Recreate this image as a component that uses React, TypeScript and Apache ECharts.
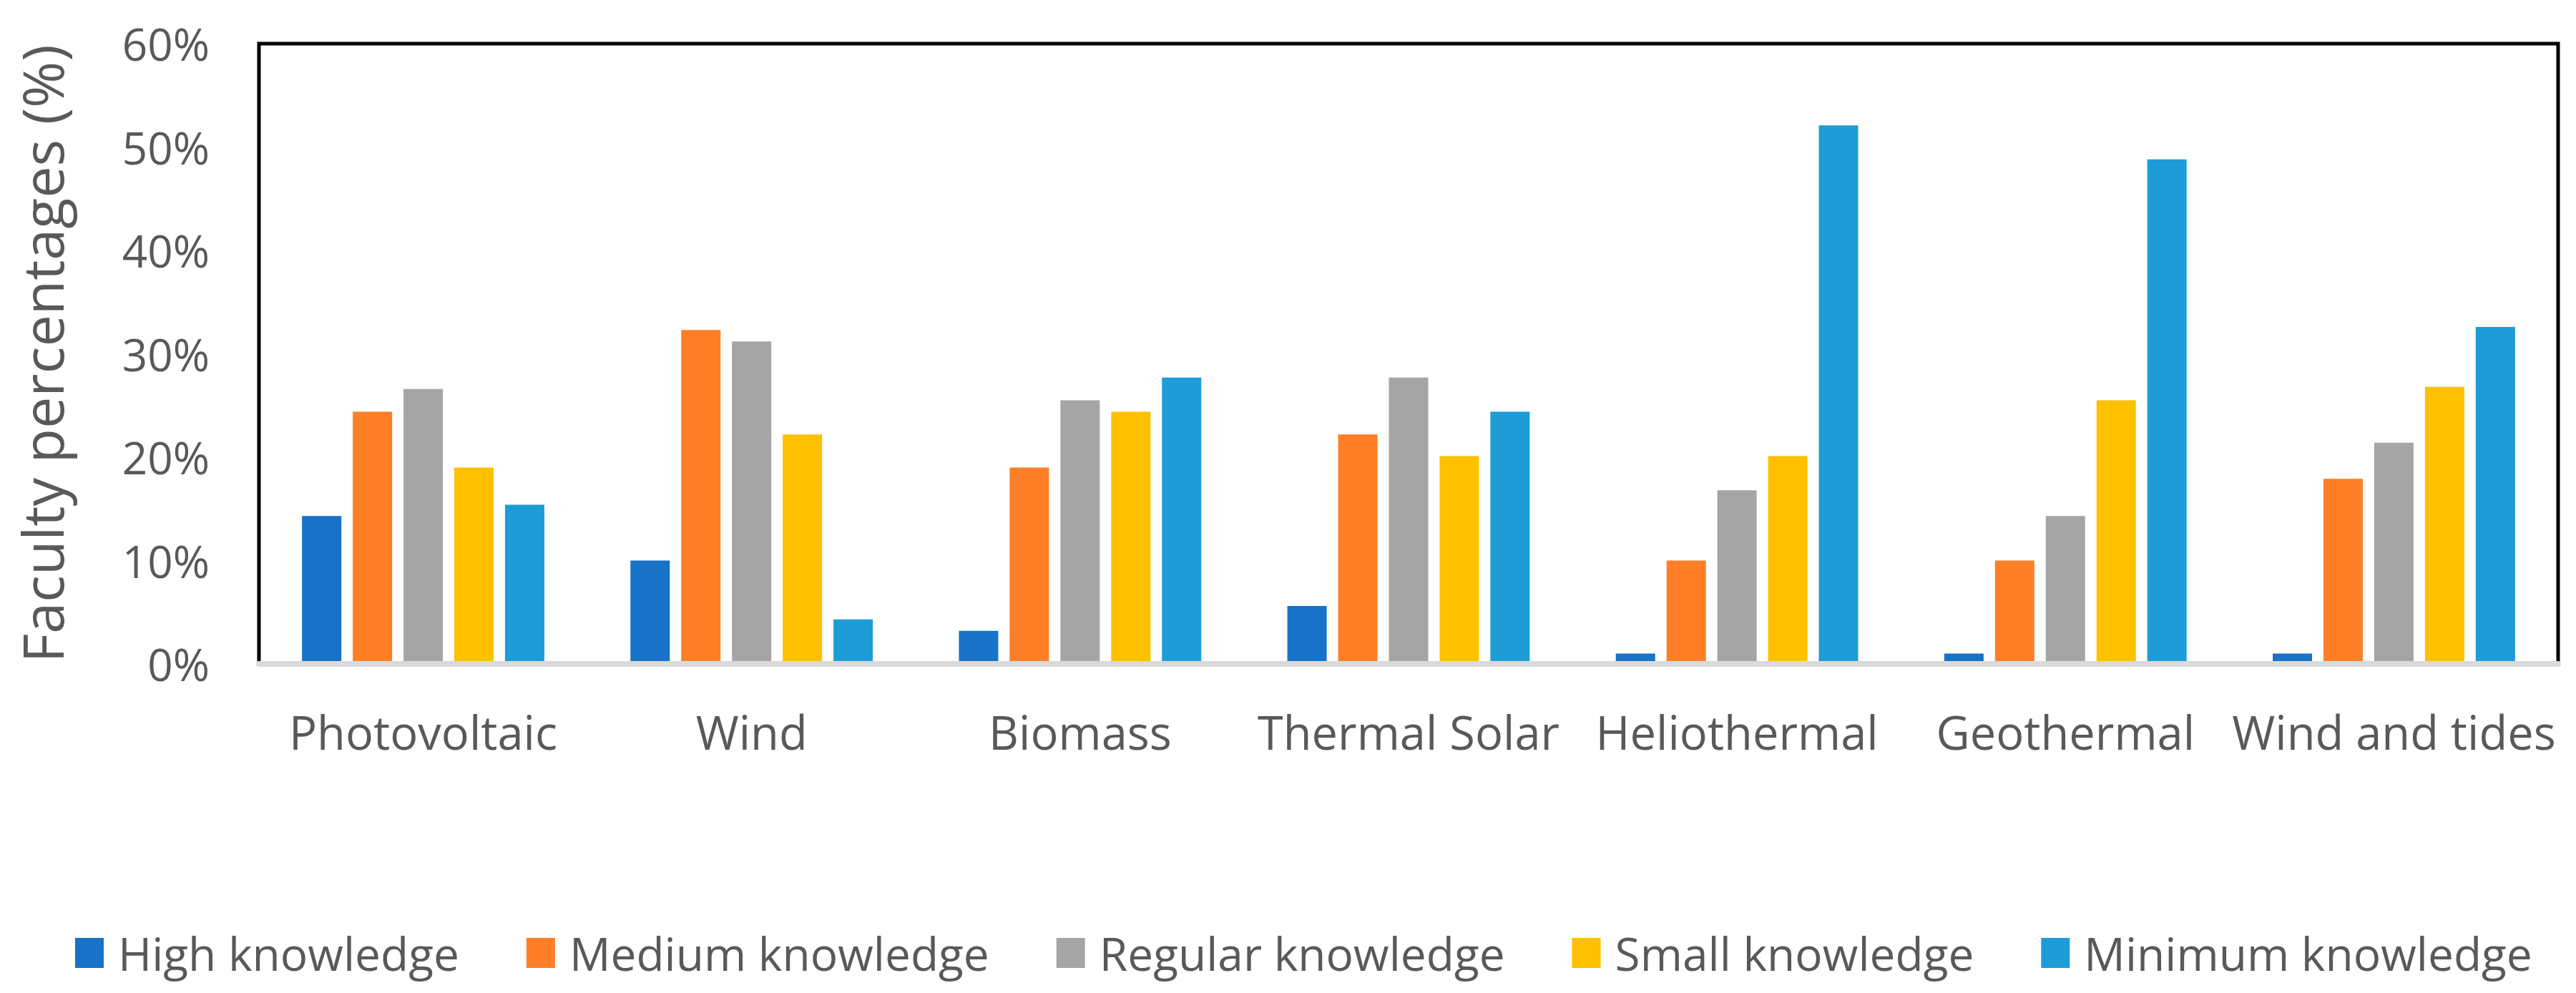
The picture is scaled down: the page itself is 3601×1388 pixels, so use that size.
import React, { useEffect, useRef } from "react";
import * as echarts from "echarts";

const categories = ["Photovoltaic", "Wind", "Biomass", "Thermal Solar", "Heliothermal", "Geothermal", "Wind and tides"];
const seriesNames = ["High knowledge", "Medium knowledge", "Regular knowledge", "Small knowledge", "Minimum knowledge"];
const highKnowledge = [14.3, 10.0, 3.2, 5.6, 1.0, 1.0, 1.0];
const mediumKnowledge = [24.4, 32.3, 19.0, 22.2, 10.0, 10.0, 17.9];
const regularKnowledge = [26.6, 31.2, 25.5, 27.7, 16.8, 14.3, 21.4];
const smallKnowledge = [19.0, 22.2, 24.4, 20.1, 20.1, 25.5, 26.8];
const minimumKnowledge = [15.4, 4.3, 27.7, 24.4, 52.1, 48.8, 32.6];
const colors = ["#1872C8", "#FE7F27", "#A5A5A5", "#FFC000", "#1D9CD8"];
const yTicks = { min: 0, max: 60, interval: 10 };

const FONT = "'Open Sans', 'Noto Sans', sans-serif";
const TEXT = "#595959";

export default function App() {
  const ref = useRef<HTMLDivElement>(null);
  useEffect(() => {
    if (!ref.current) return;
    const chart = echarts.init(ref.current, null, { renderer: "svg" });
    const all = [highKnowledge, mediumKnowledge, regularKnowledge, smallKnowledge, minimumKnowledge];
    chart.setOption({
      animation: false,
      backgroundColor: "#ffffff",
      textStyle: { fontFamily: FONT },
      grid: {
        left: 362,
        right: 25,
        top: 61,
        bottom: 460,
        show: true,
        borderColor: "#000000",
        borderWidth: 5,
        backgroundColor: "transparent",
      },
      legend: {
        left: 100,
        top: 1295,
        itemWidth: 40,
        itemHeight: 42,
        itemGap: 94,
        icon: "rect",
        data: seriesNames,
        textStyle: { fontFamily: FONT, fontSize: 64, lineHeight: 64, color: TEXT, padding: [0, 0, 0, 15] },
      },
      xAxis: {
        type: "category",
        data: categories,
        axisLine: { show: true, lineStyle: { color: "#D9D9D9", width: 8 } },
        axisTick: { show: false },
        axisLabel: { fontFamily: FONT, fontSize: 65, color: TEXT, margin: 62, lineHeight: 65, interval: 0 },
        splitLine: { show: false },
        z: 5,
      },
      yAxis: {
        type: "value",
        min: yTicks.min,
        max: yTicks.max,
        interval: yTicks.interval,
        name: "Faculty percentages (%)",
        nameLocation: "middle",
        nameGap: 264,
        nameTextStyle: { fontFamily: FONT, fontSize: 79, lineHeight: 79, color: TEXT },
        axisLine: { show: false },
        axisTick: { show: false },
        splitLine: { show: false },
        axisLabel: { fontFamily: FONT, fontSize: 62, color: TEXT, margin: 69, formatter: "{value}%" },
      },
      series: seriesNames.map((name, i) => ({
        name,
        type: "bar",
        data: all[i],
        barWidth: 55,
        barGap: "29%",
        itemStyle: { color: colors[i] },
      })),
    });
    return () => chart.dispose();
  }, []);
  return <div ref={ref} style={{ position: "absolute", left: 0, top: 0, width: 3601, height: 1388 }} />;
}
